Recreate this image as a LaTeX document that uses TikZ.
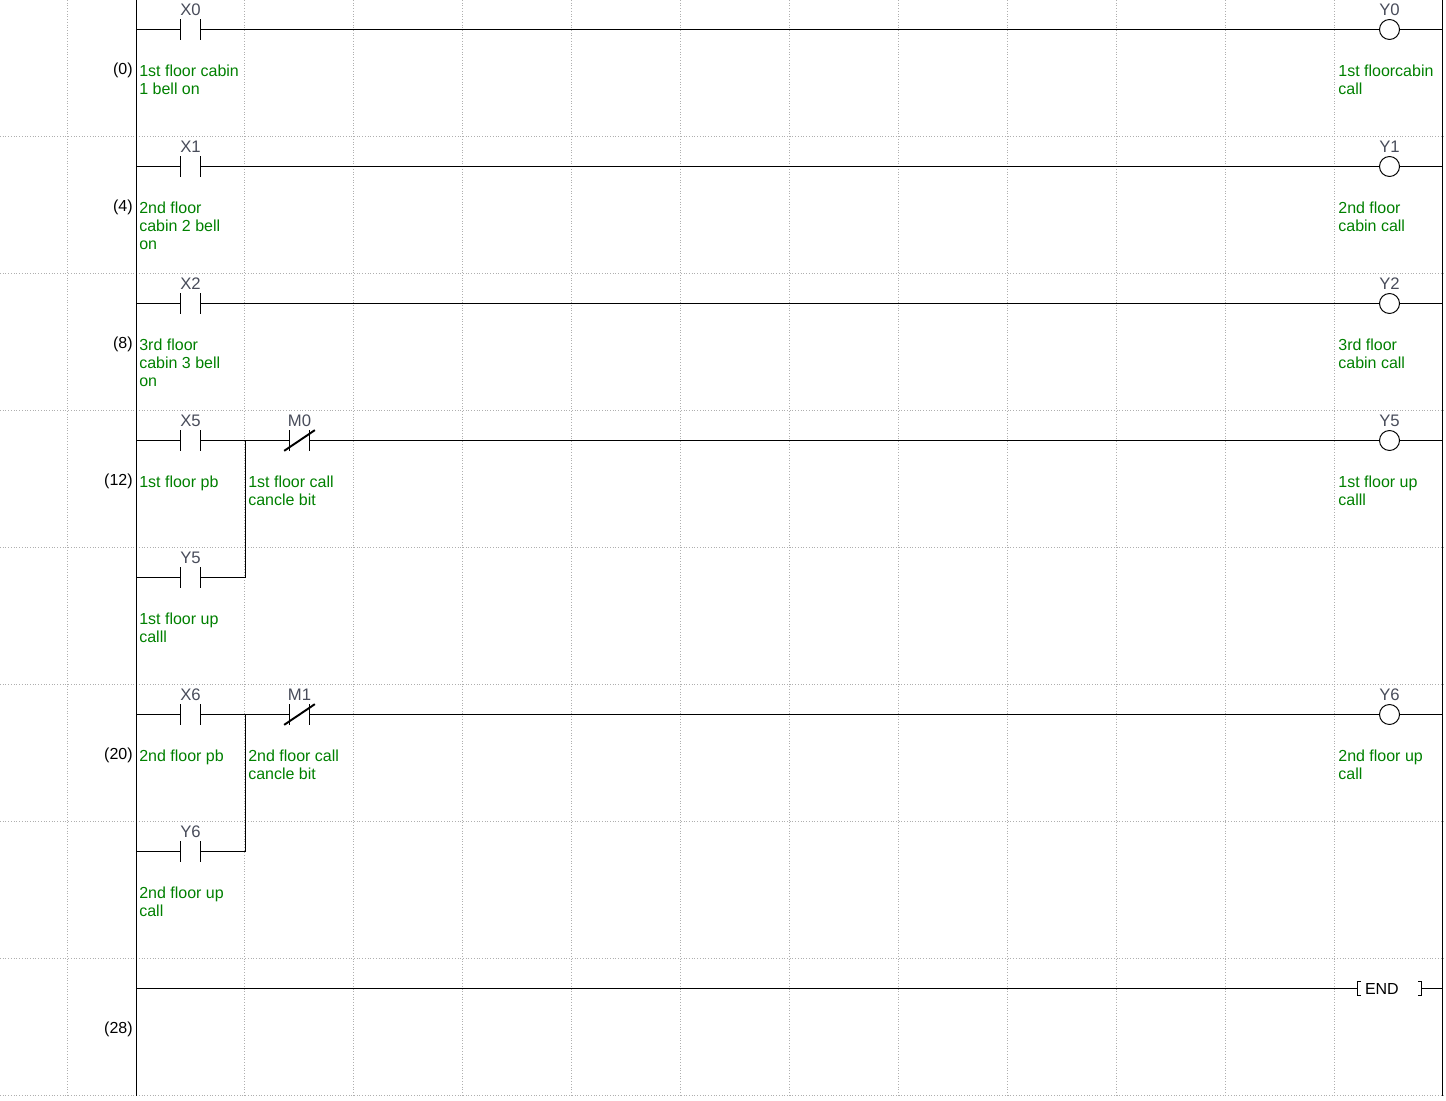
\documentclass[tikz,border=0pt]{standalone}
\usepackage{fontspec}
\setmainfont{Liberation Sans}
\definecolor{notegreen}{RGB}{0,128,0}
\definecolor{devgray}{RGB}{72,76,90}
\definecolor{griddot}{RGB}{175,175,175}
\tikzset{
  rung/.style={black, line width=0.55pt},
  gridline/.style={griddot, line width=0.55pt, densely dotted},
  contact/.style={minimum width=0.4cm, minimum height=0.4cm, inner sep=0pt},
  coil/.style={circle, draw, line width=0.55pt, fill=white, minimum size=0.4cm, inner sep=0pt},
  devtag/.style={devgray, font=\fontsize{9.5}{10.25}\selectfont, anchor=base, inner sep=0pt},
  note/.style={notegreen, font=\fontsize{9.1}{10.25}\selectfont, align=left, anchor=north west, inner sep=0pt},
  stepno/.style={black, font=\fontsize{9.1}{10.25}\selectfont, anchor=base east, inner sep=0pt},
}
\begin{document}
\begin{tikzpicture}[x=0.02cm, y=-0.02cm]
  \useasboundingbox (0,0) rectangle (1446,1101);
  % dotted grid
  \foreach \gx in {67.5,244.5,353.5,462.5,571.5,680.5,789.5,898.5,1007.5,1116.5,1225.5,1334.5}
    \draw[gridline] (\gx,0) -- (\gx,1095.5);
  \foreach \gy in {136.5,273.5,410.5,547.5,684.5,821.5,958.5,1095.5}
    \draw[gridline] (0,\gy) -- (1446,\gy);
  % power rails
  \coordinate (railtl) at (136.5,0);
  \coordinate (railbl) at (136.5,1095.5);
  \coordinate (railtr) at (1442.5,0);
  \coordinate (railbr) at (1442.5,1095.5);
  \draw[rung] (railtl) -- (railbl);
  \draw[rung] (railtr) -- (railbr);
  % plain rungs: one contact, one coil
  \foreach \cname/\oname/\ry/\stepn/\cnote/\onote in {
      X0/Y0/29.5/(0)/{1st floor cabin\\1 bell on}/{1st floorcabin\\call},
      X1/Y1/166.5/(4)/{2nd floor\\cabin 2 bell\\on}/{2nd floor\\cabin call},
      X2/Y2/303.5/(8)/{3rd floor\\cabin 3 bell\\on}/{3rd floor\\cabin call}} {
    \coordinate (L\cname) at (136.5,\ry);
    \coordinate (R\cname) at (1442.5,\ry);
    \node[contact] (\cname) at (190.5,\ry) {};
    \node[coil] (\oname) at (1389.5,\ry) {};
    \draw[rung] (L\cname) -- (\cname.west) (\cname.east) -- (\oname.west) (\oname.east) -- (R\cname);
    \draw[rung] (\cname.north west) -- (\cname.south west) (\cname.north east) -- (\cname.south east);
    \node[devtag] (\cname tag) at ([yshift=0.075cm]\cname.north) {\cname};
    \node[devtag] (\oname tag) at ([yshift=0.075cm]\oname.north) {\oname};
    \node[stepno] (step\cname) at (133,\ry+45) {\stepn};
    \node[note] (\cname note) at (139,\ry+35) {\cnote};
    \node[note] (\oname note) at (1338,\ry+35) {\onote};
  }
  % latched rungs: two parallel contacts, one closed contact, one coil
  \foreach \cname/\bname/\mname/\oname/\ry/\by/\stepn/\cnote/\bnote/\mnote/\onote in {
      X5/Y5c/M0/Y5/440.5/577.5/(12)/{1st floor pb}/{1st floor up\\calll}/{1st floor call\\cancle bit}/{1st floor up\\calll},
      X6/Y6c/M1/Y6/714.5/851.5/(20)/{2nd floor pb}/{2nd floor up\\call}/{2nd floor call\\cancle bit}/{2nd floor up\\call}} {
    \coordinate (L\cname) at (136.5,\ry);
    \coordinate (L\bname) at (136.5,\by);
    \coordinate (R\cname) at (1442.5,\ry);
    \coordinate (J\cname) at (245.5,\ry);
    \coordinate (J\bname) at (245.5,\by);
    \node[contact] (\cname) at (190.5,\ry) {};
    \node[contact] (\bname) at (190.5,\by) {};
    \node[contact] (\mname) at (299.5,\ry) {};
    \node[coil] (\oname) at (1389.5,\ry) {};
    \draw[rung] (L\cname) -- (\cname.west) (\cname.east) -- (J\cname) -- (\mname.west) (\mname.east) -- (\oname.west) (\oname.east) -- (R\cname);
    \draw[rung] (L\bname) -- (\bname.west) (\bname.east) -- (J\bname) -- (J\cname);
    \foreach \barc in {\cname,\bname,\mname}
      \draw[rung] (\barc.north west) -- (\barc.south west) (\barc.north east) -- (\barc.south east);
    % the slash of the closed contact
    \draw[black, line width=1.1pt] ([xshift=-0.1cm]\mname.south west) -- ([xshift=0.1cm]\mname.north east);
    \node[devtag] (\cname tag) at ([yshift=0.075cm]\cname.north) {\cname};
    \node[devtag] (\bname tag) at ([yshift=0.075cm]\bname.north) {\oname};
    \node[devtag] (\mname tag) at ([yshift=0.075cm]\mname.north) {\mname};
    \node[devtag] (\oname tag) at ([yshift=0.075cm]\oname.north) {\oname};
    \node[stepno] (step\cname) at (133,\ry+45) {\stepn};
    \node[note] (\cname note) at (139,\ry+35) {\cnote};
    \node[note] (\bname note) at (139,\by+35) {\bnote};
    \node[note] (\mname note) at (248,\ry+35) {\mnote};
    \node[note] (\oname note) at (1338,\ry+35) {\onote};
  }
  % end rung
  \coordinate (Lend) at (136.5,988.5);
  \coordinate (Rend) at (1442.5,988.5);
  \node[minimum width=1.26cm, minimum height=0.28cm, inner sep=0pt] (endbox) at (1389.5,988.5) {};
  \draw[rung] (Lend) -- (endbox.west) (endbox.east) -- (Rend);
  \draw[rung] ([xshift=0.06cm]endbox.north west) -- (endbox.north west) -- (endbox.south west) -- ([xshift=0.06cm]endbox.south west);
  \draw[rung] ([xshift=-0.06cm]endbox.north east) -- (endbox.north east) -- (endbox.south east) -- ([xshift=-0.06cm]endbox.south east);
  \node[stepno, anchor=base west, black] (endtag) at ([xshift=0.14cm, yshift=-0.12cm]endbox.west) {END};
  \node[stepno] (stepend) at (133,1033.5) {(28)};
\end{tikzpicture}
\end{document}
